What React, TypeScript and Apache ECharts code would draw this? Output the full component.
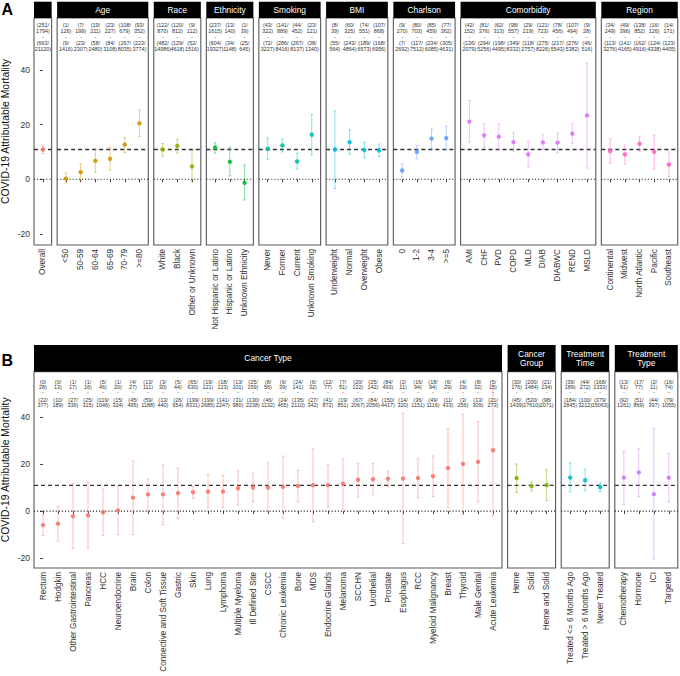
import React, { useEffect, useRef } from 'react';
import * as echarts from 'echarts';

const FONT = "'Liberation Sans', Arial, Helvetica, sans-serif";

// ---------- Panel A ----------
const groupsA = ['', 'Age', 'Race', 'Ethnicity', 'Smoking', 'BMI', 'Charlson', 'Comorbidity', 'Region'];
const categoriesA = [
  ['Overall'],
  ['<50', '50-59', '60-64', '65-69', '70-79', '>=80'],
  ['White', 'Black', 'Other or Unknown'],
  ['Not Hispanic or Latino', 'Hispanic or Latino', 'Unknown Ethnicity'],
  ['Never', 'Former', 'Current', 'Unknown Smoking'],
  ['Underweight', 'Normal', 'Overweight', 'Obese'],
  ['0', '1-2', '3-4', '>=5'],
  ['AMI', 'CHF', 'PVD', 'COPD', 'MLD', 'DIAB', 'DIABWC', 'REND', 'MSLD'],
  ['Continental', 'Midwest', 'North Atlantic', 'Pacific', 'Southeast'],
];
const estimateA = [
  [10.9],
  [0.2, 2.6, 6.7, 7.5, 12.7, 20.5],
  [10.9, 12.2, 4.7],
  [11.6, 6.4, -1.3],
  [11.2, 12.4, 6.5, 16.3],
  [10.9, 13.6, 10.7, 10.6],
  [3.2, 10.0, 14.9, 15.1],
  [21.1, 16.1, 15.6, 13.6, 9.1, 13.5, 13.4, 16.7, 23.4],
  [10.3, 9.1, 13.0, 10.0, 5.4],
];
const lowerA = [
  [9.4],
  [-1.4, -0.4, 2.5, 3.4, 9.8, 15.7],
  [8.5, 9.6, -1.0],
  [9.6, 1.2, -7.6],
  [7.3, 10.0, 3.7, 8.9],
  [-3.4, 9.2, 7.8, 8.3],
  [0.8, 7.5, 11.1, 10.8],
  [13.6, 11.8, 10.8, 10.3, 4.2, 10.9, 9.7, 13.0, 4.1],
  [5.8, 5.6, 10.3, 3.7, 1.0],
];
const upperA = [
  [12.4],
  [2.3, 5.6, 11.1, 11.7, 15.3, 25.4],
  [13.1, 14.6, 10.5],
  [13.4, 11.7, 5.2],
  [15.1, 14.7, 9.6, 23.8],
  [25.1, 18.1, 13.6, 12.9],
  [5.6, 12.4, 18.4, 19.5],
  [28.9, 20.4, 20.3, 17.0, 13.9, 16.3, 17.0, 20.4, 42.6],
  [14.8, 12.5, 15.5, 16.2, 10.0],
];
const covidCountsA = [
  ['251/1794'],
  ['1/126', '7/199', '19/211', '23/227', '108/679', '93/352'],
  ['122/870', '120/812', '9/112'],
  ['237/1615', '13/140', '1/39'],
  ['43/322', '141/889', '44/452', '23/121'],
  ['8/39', '60/325', '74/551', '107/868'],
  ['9/270', '80/703', '85/459', '77/362'],
  ['42/152', '81/376', '62/313', '98/557', '29/219', '121/723', '78/456', '107/494', '9/28'],
  ['34/249', '49/396', '138/852', '16/126', '14/171'],
];
const baseCountsA = [
  ['663/21120'],
  ['9/1416', '23/2307', '58/2480', '84/3108', '267/8035', '223/3774'],
  ['482/14986', '129/4618', '52/1516'],
  ['604/19327', '34/1148', '25/645'],
  ['72/3227', '286/8416', '267/8137', '38/1340'],
  ['55/564', '243/4864', '189/6573', '168/6956'],
  ['7/2692', '117/7512', '234/6085', '305/4631'],
  ['136/2079', '294/5256', '198/4495', '349/8332', '118/2757', '275/8226', '217/5543', '276/5382', '46/516'],
  ['113/3276', '141/4165', '162/4916', '124/4338', '123/4405'],
];
const paletteA = ['#F8766D', '#D39200', '#93AA00', '#00BA38', '#00C19F', '#00B9E3', '#619CFF', '#DB72FB', '#FF61C3'];

// ---------- Panel B ----------
const groupsB = ['Cancer Type', 'Cancer\nGroup', 'Treatment\nTime', 'Treatment\nType'];
const categoriesB = [
  ['Rectum', 'Hodgkin', 'Other Gastrointestinal', 'Pancreas', 'HCC', 'Neuroendocrine', 'Brain', 'Colon',
    'Connective and Soft Tissue', 'Gastric', 'Skin', 'Lung', 'Lymphoma', 'Multiple Myeloma', 'Ill Defined Site',
    'CSCC', 'Chronic Leukemia', 'Bone', 'MDS', 'Endocrine Glands', 'Melanoma', 'SCCHN', 'Urothelial', 'Prostate',
    'Esophagus', 'RCC', 'Myeloid Malignancy', 'Breast', 'Thyroid', 'Male Genital', 'Acute Leukemia'],
  ['Heme', 'Solid', 'Heme and Solid'],
  ['Treated <= 6 Months Ago', 'Treated > 6 Months Ago', 'Never Treated'],
  ['Chemotherapy', 'Hormone', 'ICI', 'Targeted'],
];
const estimateB = [
  [-5.9, -5.3, -2.2, -1.8, -0.5, 0.3, 5.7, 7.1, 7.1, 7.6, 8.0, 8.3, 8.3, 9.7, 10.0, 10.0, 10.3, 10.7, 11.0, 11.0,
    11.6, 13.3, 13.5, 13.7, 13.8, 14.0, 14.8, 18.2, 20.0, 20.9, 25.8],
  [14.0, 10.6, 11.0],
  [14.2, 13.1, 10.2],
  [14.2, 16.4, 7.2, 14.2],
];
const lowerB = [
  [-10.3, -12.7, -15.9, -15.6, -10.4, -10.0, -10.0, 0.3, -5.8, -3.2, 5.5, 1.3, 1.6, 2.5, 4.0, 0.0, -2.9, 4.1, -4.6, 1.9,
    0.8, 5.9, 6.9, 10.3, -13.8, 5.7, 6.1, 1.4, -1.4, 4.0, -2.1],
  [7.9, 8.6, 4.4],
  [8.2, 8.6, 8.3],
  [2.7, 6.1, -20.3, 4.1],
];
const upperB = [
  [-1.7, 1.9, 11.7, 12.3, 9.3, 10.6, 21.3, 13.7, 19.6, 18.2, 10.4, 15.4, 15.2, 17.1, 16.1, 20.5, 23.3, 17.3, 26.4, 19.9,
    22.0, 20.3, 20.3, 17.1, 41.6, 22.2, 23.4, 35.0, 41.2, 37.9, 53.4],
  [20.0, 12.4, 17.5],
  [20.5, 17.8, 12.0],
  [25.4, 26.4, 35.1, 24.5],
];
const covidCountsB = [
  ['0/28', '0/13', '1/17', '1/16', '5/46', '1/20', '4/27', '13/111', '3/30', '5/44', '65/630', '19/121', '18/123',
    '13/101', '25/159', '8/56', '6/39', '24/141', '6/32', '12/77', '7/51', '20/122', '25/142', '84/493', '2/11',
    '16/94', '18/94', '6/29', '4/19', '8/32', '5/15'],
  ['30/176', '200/1484', '21/134'],
  ['39/189', '44/272', '168/1333'],
  ['13/61', '17/77', '2/11', '16/74'],
];
const baseCountsB = [
  ['22/377', '10/189', '27/336', '25/315', '119/1046', '15/324', '45/495', '59/1188', '13/440', '26/654', '199/8331',
    '199/2685', '141/2247', '31/980', '130/2238', '46/1132', '24/465', '135/2110', '27/342', '41/872', '19/851',
    '67/2067', '84/2056', '150/4417', '14/320', '36/1151', '49/1116', '11/433', '3/256', '13/309', '21/273'],
  ['45/1439', '520/17610', '98/2071'],
  ['184/2845', '100/3212', '379/15063'],
  ['92/1261', '51/869', '44/397', '79/1055'],
];
const paletteB = ['#F8766D', '#7CAE00', '#00BFC4', '#C77CFF'];

const yTicks = [-20, 0, 20, 40];
const overallEstimate = estimateA[0][0];

export default function App() {
  const ref = useRef<HTMLDivElement>(null);

  useEffect(() => {
    const chart = echarts.init(ref.current as HTMLDivElement, null, { renderer: 'svg' });
    const grids: any[] = [];
    const xAxes: any[] = [];
    const yAxes: any[] = [];
    const series: any[] = [];
    const graphics: any[] = [];

    const addRow = (row: any, groups: string[], cats: string[][], est: number[][], lo: number[][], hi: number[][],
      cTop: string[][], cBot: string[][], palette: string[]) => {
      let left = row.left;
      cats.forEach((c, g) => {
        const n = c.length;
        const width = (n + 0.2) * row.unit;
        const k = grids.length;
        const first = g === 0;
        grids.push({
          left, top: row.top, width, height: row.height, show: true,
          borderColor: '#595959', borderWidth: 1.1, containLabel: false, outerBoundsMode: 'none',
        });
        const idx = c.map((_, i) => i);
        xAxes.push({
          gridIndex: k, type: 'value', min: -0.6, max: n - 0.4,
          splitLine: { show: false }, axisLine: { show: false },
          axisTick: { show: true, length: 3, customValues: idx, lineStyle: { color: '#444', width: 1 } },
          axisLabel: {
            show: true, customValues: idx, rotate: 90, fontSize: 8.2, color: '#333', margin: 4, fontFamily: FONT,
            formatter: (v: number) => c[Math.round(v)] ?? '',
          },
        });
        yAxes.push({
          gridIndex: k, type: 'value', min: -24.1, max: 59.1, show: first,
          splitLine: { show: false }, axisLine: { show: false },
          axisTick: { show: true, length: 3, customValues: yTicks, lineStyle: { color: '#444' } },
          axisLabel: { customValues: yTicks, fontSize: 8.5, color: '#333', margin: 4, fontFamily: FONT },
          name: first ? 'COVID-19 Attributable Mortality' : '', nameLocation: 'middle', nameGap: 24,
          nameMoveOverlap: false,
          nameTextStyle: { fontSize: 10.4, color: '#111', fontFamily: FONT },
        });
        const color = palette[g];
        const offs = row.countOffsets;
        series.push({
          type: 'custom', xAxisIndex: k, yAxisIndex: k, silent: true, clip: false,
          data: c.map((_, i) => [i, est[g][i], lo[g][i], hi[g][i]]),
          renderItem: (params: any, api: any) => {
            const i = api.value(0);
            const p = api.coord([i, api.value(1)]);
            const pl = api.coord([i, api.value(2)]);
            const ph = api.coord([i, api.value(3)]);
            const cs = params.coordSys;
            const ch: any[] = [];
            if (params.dataIndex === 0) {
              const y0 = api.coord([0, 0])[1];
              const yr = api.coord([0, overallEstimate])[1];
              ch.push({ type: 'line', shape: { x1: cs.x, y1: y0, x2: cs.x + cs.width, y2: y0 },
                style: { stroke: '#222', lineWidth: 1.1, lineDash: [1.1, 2] } });
              ch.push({ type: 'line', shape: { x1: cs.x, y1: yr, x2: cs.x + cs.width, y2: yr },
                style: { stroke: '#333', lineWidth: 1.3, lineDash: [4, 3] } });
            }
            const barStyle = { stroke: color, lineWidth: 1, opacity: 0.45 };
            ch.push({ type: 'line', shape: { x1: p[0], y1: pl[1], x2: p[0], y2: ph[1] }, style: barStyle });
            ch.push({ type: 'line', shape: { x1: p[0] - 1.4, y1: pl[1], x2: p[0] + 1.4, y2: pl[1] }, style: barStyle });
            ch.push({ type: 'line', shape: { x1: p[0] - 1.4, y1: ph[1], x2: p[0] + 1.4, y2: ph[1] }, style: barStyle });
            ch.push({ type: 'circle', shape: { cx: p[0], cy: p[1], r: 2.2 }, style: { fill: color, opacity: 0.9 } });
            const t = cTop[g][i].split('/');
            const b = cBot[g][i].split('/');
            const lines = ['(' + t[0] + '/', t[1] + ')', '-', '(' + b[0] + '/', b[1] + ')'];
            lines.forEach((s, li) => {
              ch.push({
                type: 'text', x: p[0], y: cs.y + offs[li],
                style: { text: s, fill: '#333', fontSize: 5.4, fontFamily: FONT, align: 'center', verticalAlign: 'middle' },
              });
            });
            return { type: 'group', children: ch };
          },
        });
        // strip
        graphics.push({ type: 'rect', shape: { x: left, y: row.stripTop, width, height: row.top - row.stripTop },
          style: { fill: '#000' } });
        if (groups[g]) {
          graphics.push({
            type: 'text', x: left + width / 2, y: (row.stripTop + row.top) / 2,
            style: { text: groups[g], fill: '#fff', fontSize: 8.4, fontFamily: FONT, align: 'center',
              verticalAlign: 'middle', lineHeight: 9 },
          });
        }
        left += width + row.gap;
      });
    };

    addRow({ left: 34, top: 18, height: 227, unit: 14.7, gap: 5.5, stripTop: 1.7, countOffsets: [7, 12.7, 18.7, 25.3, 31] },
      groupsA, categoriesA, estimateA, lowerA, upperA, covidCountsA, baseCountsA, paletteA);
    addRow({ left: 34, top: 371.7, height: 196.3, unit: 15.0, gap: 5.6, stripTop: 345, countOffsets: [10, 15.3, 20.6, 28.6, 33.3] },
      groupsB, categoriesB, estimateB, lowerB, upperB, covidCountsB, baseCountsB, paletteB);

    graphics.push({ type: 'text', x: 1.5, y: 9, style: { text: 'A', fill: '#000', fontSize: 16, fontWeight: 'bold',
      fontFamily: FONT, align: 'left', verticalAlign: 'middle' } });
    graphics.push({ type: 'text', x: 1.5, y: 360, style: { text: 'B', fill: '#000', fontSize: 16, fontWeight: 'bold',
      fontFamily: FONT, align: 'left', verticalAlign: 'middle' } });

    chart.setOption({
      animation: false,
      textStyle: { fontFamily: FONT },
      grid: grids,
      xAxis: xAxes,
      yAxis: yAxes,
      series,
      graphic: graphics,
    });
    return () => chart.dispose();
  }, []);

  return <div ref={ref} style={{ position: 'fixed', left: 0, top: 0, width: 680, height: 676, background: '#fff' }} />;
}
